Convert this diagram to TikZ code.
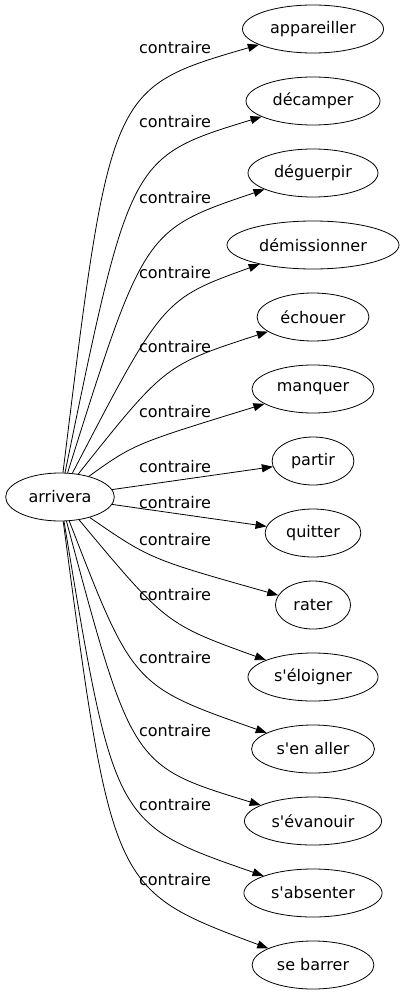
\documentclass[tikz,border=0pt]{standalone}
\usepackage{fontspec}
\setmainfont{DejaVu Sans}
\usetikzlibrary{shapes.geometric,arrows.meta}
\tikzset{word/.style={ellipse,draw=black,line width=0.8pt,inner xsep=7pt,inner ysep=2pt,minimum height=48pt},
  rel/.style={inner sep=0pt},
  link/.style={line width=0.8pt,-{Triangle[length=11pt,width=8pt]}}}

\begin{document}
\begin{tikzpicture}[x=1pt,y=-1pt,font=\fontsize{16}{19}\selectfont]
\useasboundingbox (0,0) rectangle (403,995);
\node[word] (arrivera) at (60,497) {arrivera};
\foreach \name/\txt [count=\i from 0] in {appareiller/appareiller,decamper/décamper,deguerpir/déguerpir,demissionner/démissionner,echouer/échouer,manquer/manquer,partir/partir,quitter/quitter,rater/rater,seloigner/s\textquotesingle éloigner,senaller/s\textquotesingle en aller,sevanouir/s\textquotesingle évanouir,sabsenter/s\textquotesingle absenter,sebarrer/se barrer}
  \node[word] (\name) at (313,{29+72*\i}) {\txt};

% labels
\foreach \y [count=\k] in {48,122,198,273,347,412,467,503,540,595,658,731,805,880}
  \node[rel] (lab\k) at (175,\y) {contraire};

% edges
\foreach \name/\cx/\cy in {appareiller/110/88,decamper/130/157,deguerpir/144/230,demissionner/163/299,echouer/165/365,manquer/134/444,rater/150/559,seloigner/166/624,senaller/133/686,sevanouir/132/766,sabsenter/114/824,sebarrer/112/890}
  \draw[link] (arrivera) .. controls (\cx,\cy) .. (\name);
\draw[link] (arrivera) -- (partir);
\draw[link] (arrivera) -- (quitter);
\end{tikzpicture}
\end{document}
